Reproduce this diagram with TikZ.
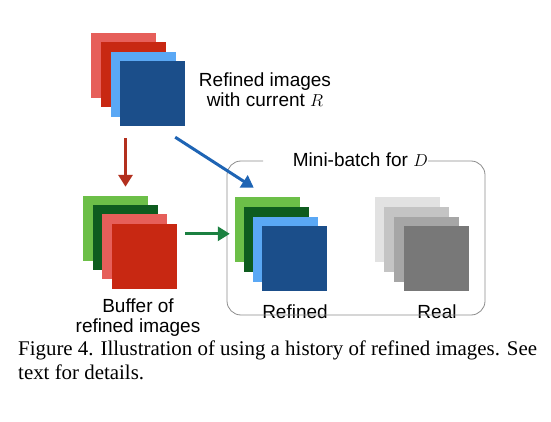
\documentclass[tikz,border=0pt]{standalone}
\usepackage{xcolor}
\usepackage{fontspec}
\usepackage{tikz}
\usetikzlibrary{arrows.meta}
\newfontfamily\labelfont{Liberation Sans}
\newfontfamily\capfont{Liberation Serif}

\definecolor{lred}{HTML}{E65F5A}
\definecolor{dred}{HTML}{C82812}
\definecolor{lblue}{HTML}{5AA8F5}
\definecolor{dblue}{HTML}{1B4E8A}
\definecolor{lgreen}{HTML}{6CBF48}
\definecolor{dgreen}{HTML}{0E5C1F}
\definecolor{gray1}{HTML}{E2E2E2}
\definecolor{gray2}{HTML}{C4C4C4}
\definecolor{gray3}{HTML}{A6A6A6}
\definecolor{gray4}{HTML}{787878}

\begin{document}
\begin{tikzpicture}[x=1pt,y=-1pt,
        img/.style = {minimum size=65pt, inner sep=0pt, draw=none},
        lbl/.style = {font=\labelfont\fontsize{19}{20}\selectfont, align=center},
        arr/.style = {line width=3pt, -{Triangle[length=12pt,width=14pt]}}
        ]
    \useasboundingbox (0,0) rectangle (551,422);

    \node[img,fill=lred]  (top1) at (123.5,65.5) {};
    \node[img,fill=dred]  (top2) at (133.5,74.5) {};
    \node[img,fill=lblue] (top3) at (143.5,84.5) {};
    \node[img,fill=dblue] (top4) at (152.5,93.5) {};
    \node[lbl] (toplbl) at (265,90) {Refined images\\with current $R$}; %label

    \node[img,fill=lgreen] (buf1) at (115.5,228.5) {};
    \node[img,fill=dgreen] (buf2) at (125.5,237.5) {};
    \node[img,fill=lred]   (buf3) at (134.5,246.5) {};
    \node[img,fill=dred]   (buf4) at (144.5,256.5) {};
    \node[lbl] (buflbl) at (138,318) {Buffer of\\refined images}; %label

    \node[img,fill=lgreen] (ref1) at (267.5,229.5) {};
    \node[img,fill=dgreen] (ref2) at (276.5,239.5) {};
    \node[img,fill=lblue]  (ref3) at (285.5,249.5) {};
    \node[img,fill=dblue]  (ref4) at (294.5,258.5) {};
    \node[lbl] (reflbl) at (295,312) {Refined}; %label

    \node[img,fill=gray1] (real1) at (407.5,229.5) {};
    \node[img,fill=gray2] (real2) at (416.5,239.5) {};
    \node[img,fill=gray3] (real3) at (426.5,249.5) {};
    \node[img,fill=gray4] (real4) at (436.5,258.5) {};
    \node[lbl] (reallbl) at (437,312) {Real}; %label

    % mini-batch frame
    \node[lbl, anchor=east, inner sep=0pt] (mb) at (428,160) {Mini-batch for $D$};
    \draw[gray!90, line width=0.8pt, rounded corners=14pt]
        (mb.east |- 0,161) -- (485,161) -- (485,315) -- (227,315) -- (227,161) -- (263,161);

    \draw[arr, color={rgb,255:red,179;green,48;blue,30}]
        ([yshift=-12pt]top4.south -| buf2) -- ([yshift=9pt]buf1.north -| buf2);
    \draw[arr, color={rgb,255:red,30;green,100;blue,180}]
        ([shift={(-10pt,-11pt)}]top4.south east) -- ([shift={(19pt,9pt)}]ref1.north west);
    \draw[arr, color={rgb,255:red,27;green,128;blue,64}]
        ([shift={(8pt,-10pt)}]buf4.north east) -- ([shift={(-5pt,-37pt)}]ref1.north west);

    \node[anchor=west, inner sep=0pt, align=left, font=\capfont\fontsize{20.9}{24}\selectfont] (cap) at (18,360)
        {Figure 4. Illustration of using a history of refined images. See\\text for details.};
\end{tikzpicture}
\end{document}
